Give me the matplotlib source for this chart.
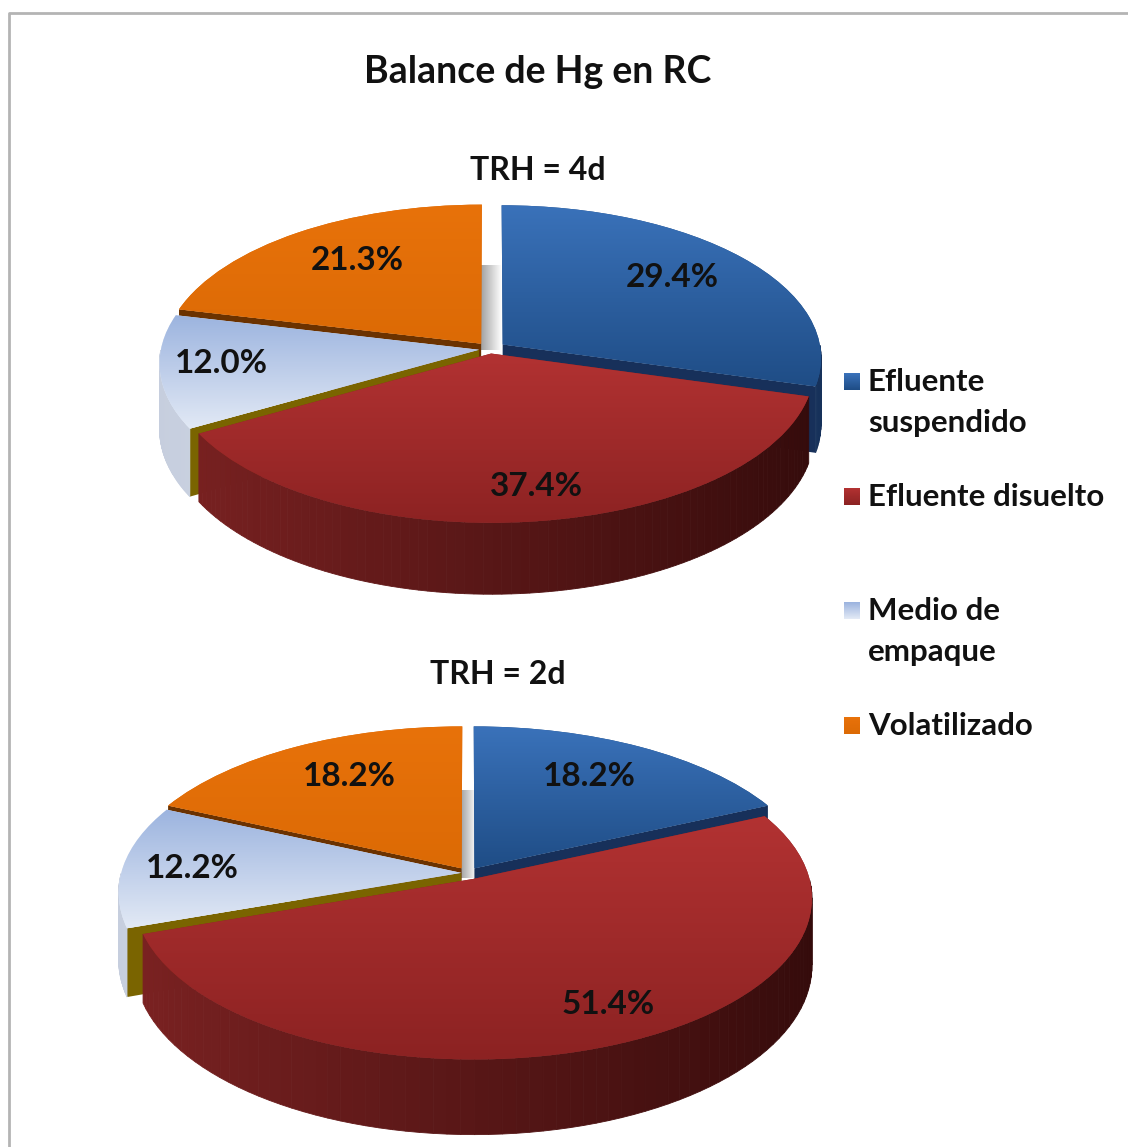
import numpy as np
import matplotlib
matplotlib.use("Agg")
import matplotlib.pyplot as plt
from matplotlib.transforms import Transform
from matplotlib.colors import to_rgb

W, H = 1128, 1147
plt.rcParams['font.family'] = ['Lato', 'Open Sans', 'DejaVu Sans']

title = "Balance de Hg en RC"
categories = ["Efluente\nsuspendido", "Efluente disuelto", "Medio de\nempaque", "Volatilizado"]
values_4d = [29.4, 37.4, 12.0, 21.3]
values_2d = [18.2, 51.4, 12.2, 18.2]
subtitle_4d = "TRH = 4d"
subtitle_2d = "TRH = 2d"

top_grad = [("#3a72ba", "#1f4d86"), ("#b23232", "#8c2222"), ("#9cb4df", "#e2e9f5"), ("#e8720a", "#dc6a05")]
side_grad = [("#1d3d6b", "#16315a"), ("#7c2222", "#340b0b"), ("#c6cede", "#e4e8f0"), ("#6a3000", "#6a3000")]
edge_cols = ["#17305a", "#7a1e1e", "#7a6400", "#6b3200"]
FONT_W = 'bold'

fig = plt.figure(figsize=(W/100, H/100), dpi=100, facecolor='white')
bg = fig.add_axes([0, 0, 1, 1])
bg.set_xlim(0, W); bg.set_ylim(H, 0); bg.axis('off')
bg.plot([9, 9, W], [H, 13, 13], color='#b4b4b4', lw=2)
bg.text(538, 72, title, ha='center', va='center', fontsize=27, weight=FONT_W, color='#111111')


class Persp(Transform):
    input_dims = output_dims = 2
    is_affine = False
    has_inverse = False

    def __init__(self, p, ky):
        super().__init__()
        self.p, self.ky = p, ky

    def transform_non_affine(self, v):
        v = np.asarray(v, float)
        w = 1 + self.p*v[:, 1]
        return np.column_stack([v[:, 0]/w, self.ky*v[:, 1]/w])


def hexmix(c1, c2, f):
    a, b = np.array(to_rgb(c1)), np.array(to_rgb(c2))
    return tuple(a + (b-a)*f)


def draw_pie(values, cx, cy, a, k, p, t, explode, red_scale, label_px):
    L = 1.25*a
    ax = fig.add_axes([(cx-L)/W, 1-(cy+L)/H, 2*L/W, 2*L/H])
    ax.patch.set_alpha(0)
    wedges, _, autotexts = ax.pie(values, startangle=90, counterclock=False, explode=explode,
                                  autopct='%.1f%%', radius=1)
    ax.set_frame_on(False)
    ax.set_aspect('auto')
    wedges[1].set_radius(red_scale)
    tr = Persp(p, k/a)
    tdata = tr + ax.transData
    T = t/a

    def proj(x, y, drop=0.0):
        w = 1 + p*y
        return x/w, (k/a)*y/w - drop/w

    order = [3, 0, 2, 1]
    for z, i in enumerate(order):
        wd = wedges[i]
        c = np.array(wd.center)
        r = wd.r
        th1, th2 = np.radians(wd.theta1), np.radians(wd.theta2)
        zb = 10 + 10*z
        # cut walls that face the viewer
        for th, show in ((th1, i == 0), (th2, i == 3 or i == 2)):
            if show:
                ex, ey = c[0] + r*np.cos(th), c[1] + r*np.sin(th)
                pts = [proj(c[0], c[1]), proj(ex, ey), proj(ex, ey, T), proj(c[0], c[1], T)]
                ax.fill(*zip(*pts), color=edge_cols[i], lw=0, zorder=zb)
        # outer wall, strips across the front half only
        ths = np.linspace(th1, th2, 90)
        for u0, u1 in zip(ths[:-1], ths[1:]):
            if np.sin((u0+u1)/2) > 0.0:
                continue
            xa, ya = c[0]+r*np.cos(u0), c[1]+r*np.sin(u0)
            xb, yb = c[0]+r*np.cos(u1), c[1]+r*np.sin(u1)
            pts = [proj(xa, ya), proj(xb, yb), proj(xb, yb, T), proj(xa, ya, T)]
            f = np.clip((np.cos((u0+u1)/2)+1)/2, 0, 1)
            col = hexmix(side_grad[i][0], side_grad[i][1], f)
            ax.fill(*zip(*pts), color=col, lw=0.6, ec=col, zorder=zb+1)
        # top face: the pie wedge, projected, filled with a vertical gradient
        wd.set_transform(tdata)
        wd.set_facecolor(top_grad[i][1])
        wd.set_edgecolor('none')
        wd.set_zorder(zb+2)
        path = wd.get_path()
        pv = tr.transform(path.vertices)
        ymin, ymax = pv[:, 1].min(), pv[:, 1].max()
        grad = np.linspace(0, 1, 128)
        rgb = np.array([hexmix(top_grad[i][0], top_grad[i][1], g) for g in grad])[:, None, :]
        im = ax.imshow(rgb, extent=(-1.25, 1.25, ymin, ymax), origin='upper', aspect='auto', zorder=zb+3)
        im.set_clip_path(path, tdata)
    for txt, (px, py) in zip(autotexts, label_px):
        txt.set_position(((px-cx)/a, (cy-py)/a))
        txt.set_ha('center'); txt.set_va('center')
        txt.set(fontsize=24, weight=FONT_W, color='#111111', zorder=100)
    ax.set_xlim(-1.25, 1.25); ax.set_ylim(-1.25, 1.25)
    ax.set_aspect('auto')
    ax.set_xticks([]); ax.set_yticks([])
    return ax


# light strip visible in the gap between orange and blue
for x0, x1, y0, y1 in ((480, 502, 265, 350), (460, 477, 790, 878)):
    g = np.linspace(0, 1, 32)[None, :]
    bg.imshow(np.dstack([0.62+0.38*g]*3), extent=(x0, x1, y1, y0), aspect='auto', zorder=1)
bg.set_xlim(0, W); bg.set_ylim(H, 0)

draw_pie(values_4d, 490, 349, 318, 152, 0.087, 65,
         [0.05, 0.03, 0.035, 0.045], 1.01,
         [(672, 277), (536, 486), (221, 363), (357, 260)])
draw_pie(values_2d, 468, 873, 340, 160, 0.12, 66,
         [0.035, 0.04, 0.02, 0.035], 0.985,
         [(589, 777), (608, 1005), (192, 868), (349, 777)])

fg = fig.add_axes([0, 0, 1, 1]); fg.patch.set_alpha(0)
fg.set_xlim(0, W); fg.set_ylim(H, 0); fg.axis('off')
fg.text(538, 170, subtitle_4d, ha='center', va='center', fontsize=23, weight=FONT_W, color='#111111')
fg.text(498, 675, subtitle_2d, ha='center', va='center', fontsize=23, weight=FONT_W, color='#111111')

ly = [381, 496, 610, 725]
for name, y, (c1, c2) in zip(categories, ly, top_grad):
    g = np.linspace(0, 1, 16)
    rgb = np.array([hexmix(c1, c2, v) for v in g])[:, None, :]
    fg.imshow(rgb, extent=(844, 860, y+9, y-8), aspect='auto', origin='upper')
    fg.text(868, y-13, name, ha='left', va='top', fontsize=22.5, weight=FONT_W,
            color='#111111', linespacing=1.55)
fg.set_xlim(0, W); fg.set_ylim(H, 0)

fig.savefig("out.png", dpi=100)
